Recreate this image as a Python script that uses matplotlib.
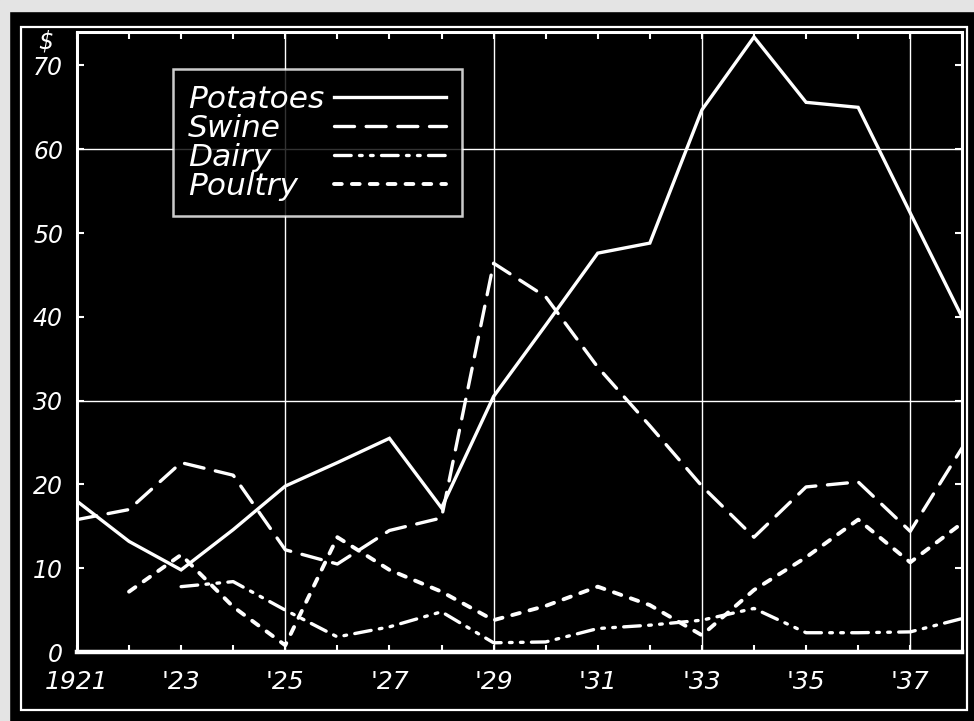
import numpy as np
import matplotlib
matplotlib.use('Agg')
import matplotlib.pyplot as plt
from matplotlib.patches import Rectangle

# 데이터 (그림에서 읽은 값, 단위 $)
years = list(range(1921, 1939))
potatoes = [18, 13.2, 9.8, 14.6, 19.8, 22.6, 25.5, 17.2, 30.5, 39, 47.6, 48.8, 64.7, 73.4, 65.6, 65, 52.4, 39.9]
swine = [15.8, 17, 22.6, 21.1, 12.2, 10.5, 14.5, 16, 46.4, 42.4, 34, 27, 19.8, 13.7, 19.7, 20.3, 14.4, 24.4]
dairy = [np.nan, np.nan, 7.8, 8.4, 5.0, 1.8, 3.0, 4.8, 1.1, 1.2, 2.8, 3.2, 3.8, 5.2, 2.3, 2.3, 2.4, 4.0]
poultry = [np.nan, 7.2, 11.6, 5.4, 0.8, 13.7, 9.8, 7.2, 3.8, 5.5, 7.8, 5.6, 2.0, 7.4, 11.3, 15.8, 10.7, 15.4]

year_ticks = [1921, 1923, 1925, 1927, 1929, 1931, 1933, 1935, 1937]
year_labels = ['1921', "'23", "'25", "'27", "'29", "'31", "'33", "'35", "'37"]
y_ticks = [0, 10, 20, 30, 40, 50, 60, 70]
grid_years = [1925, 1929, 1933, 1937]
grid_values = [30, 60]

FG = 'white'
BG = 'black'
DPI = 100
LEG_SIZE = 22.5
font = dict(family='DejaVu Sans', style='italic', color=FG)

fig = plt.figure(figsize=(9.74, 7.21), dpi=DPI, facecolor=BG)
ax = fig.add_axes([0.079, 0.0957, 0.909, 0.86])
ax.set_facecolor(BG)

# 종이 가장자리 (회색)
fig.add_artist(Rectangle((0, 0.985), 1, 0.015, transform=fig.transFigure, color='#e4e4e4', zorder=0))
fig.add_artist(Rectangle((0, 0), 0.009, 1, transform=fig.transFigure, color='#e4e4e4', zorder=0))
# 바깥 테두리
fig.add_artist(Rectangle((0.022, 0.015), 0.971, 0.948, transform=fig.transFigure,
                         fill=False, edgecolor=FG, lw=1.6))

# 격자
for gx in grid_years:
    ax.axvline(gx, color=FG, lw=1.0, zorder=1)
for gy in grid_values:
    ax.axhline(gy, color=FG, lw=1.0, zorder=1)

lw = 2.4
ax.plot(years, potatoes, color=FG, lw=lw, solid_joinstyle='miter', label='Potatoes', zorder=3)
ax.plot(years, swine, color=FG, lw=lw, ls=(0, (6, 3.5)), dash_capstyle='round', label='Swine', zorder=3)
ax.plot(years, dairy, color=FG, lw=lw, ls=(0, (5, 2.5, 0.8, 2.5, 0.8, 2.5)),
        dash_capstyle='round', label='Dairy', zorder=3)
ax.plot(years, poultry, color=FG, lw=2.8, ls=(0, (2.0, 2.6)), dash_capstyle='round',
        label='Poultry', zorder=3)

ax.set_xlim(1921, 1938)
ax.set_ylim(0, 74)

ax.set_xticks(year_ticks)
ax.set_xticklabels(year_labels, fontdict=font, fontsize=18)
ax.set_xticks(years, minor=True)
ax.set_yticks(y_ticks)
ax.set_yticklabels([str(v) for v in y_ticks], fontdict=font, fontsize=17)
ax.tick_params(axis='x', which='both', direction='in', top=True, bottom=True,
               color=FG, width=1.5, length=5, pad=13)
ax.tick_params(axis='y', which='both', direction='in', left=True, right=True,
               color=FG, width=1.5, length=5, pad=10)
for lab in ax.get_xticklabels() + ax.get_yticklabels():
    lab.set_color(FG)

ax.text(-0.035, 0.985, '$', transform=ax.transAxes, ha='center', va='center', fontsize=17, **font)

for side in ['left', 'top', 'right']:
    ax.spines[side].set_color(FG)
    ax.spines[side].set_linewidth(2.2)
ax.spines['bottom'].set_color(FG)
ax.spines['bottom'].set_linewidth(3.2)

leg = ax.legend(loc='upper left', bbox_to_anchor=(0.108, 0.94), markerfirst=False,
                frameon=True, fancybox=False, facecolor=BG, edgecolor=FG,
                handlelength=3.6, handletextpad=0.3, labelspacing=0.0,
                borderpad=0.5, borderaxespad=0,
                prop=dict(family='DejaVu Sans', style='italic', size=LEG_SIZE))
leg.get_frame().set_linewidth(1.8)
for t in leg.get_texts():
    t.set_color(FG)

# 범례: 글자는 왼쪽 정렬, 선 견본은 오른쪽 끝 맞춤
fig.canvas.draw()
text_w = [t.get_window_extent().width for t in leg.get_texts()]
base_sep = 0.3 * LEG_SIZE
for col in leg._legend_handle_box.get_children():
    col.align = 'left'
    for row, w in zip(col.get_children(), text_w):
        row.sep = base_sep + (max(text_w) - w) * 72 / DPI

plt.savefig('out.png', dpi=DPI, facecolor=BG)
